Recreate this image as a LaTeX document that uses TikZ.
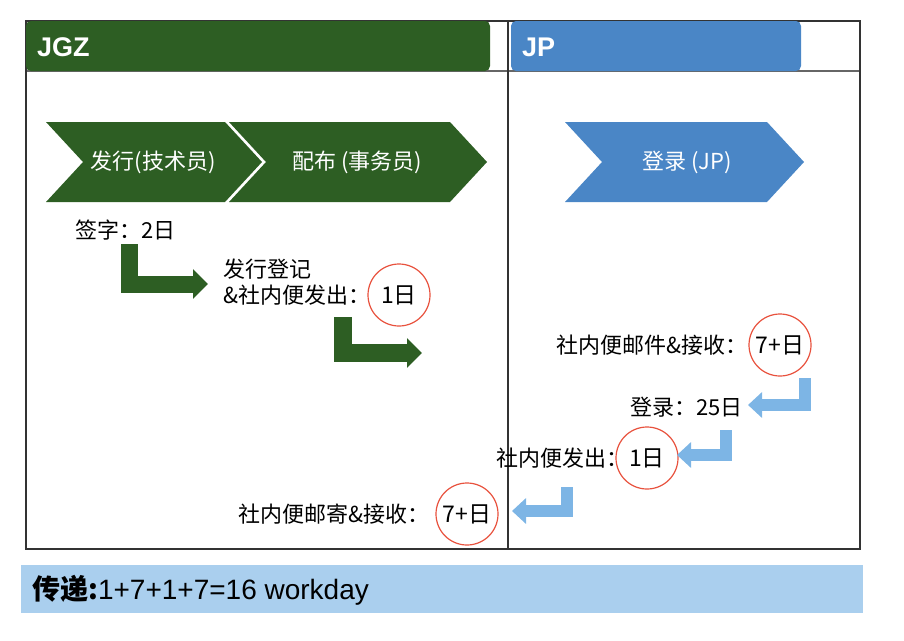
\documentclass[tikz,border=0pt]{standalone}
\usepackage{fontspec}
\setmainfont{Noto Sans CJK SC}
\newfontfamily\arialfont{Liberation Sans}
\usepackage{tikz}
\usetikzlibrary{calc}
\usetikzlibrary{positioning}
\usetikzlibrary{arrows.meta}

\definecolor{jgzgreen}{RGB}{45,94,35}
\definecolor{jpblue}{RGB}{74,134,198}
\definecolor{arrowblue}{RGB}{125,181,229}
\definecolor{barblue}{RGB}{170,207,238}
\definecolor{ringred}{RGB}{232,82,62}

\begin{document}
\begin{tikzpicture}[x=1pt,y=-1pt,
  txt/.style={inner sep=0pt,font=\fontsize{22}{26}\selectfont},
  chevtxt/.style={txt,text=white},
  headtxt/.style={anchor=west,inner sep=0pt,text=white,font=\arialfont\bfseries\fontsize{27}{30}\selectfont},
  ring/.style={txt,circle,draw=ringred,line width=1.2pt,minimum size=62pt,font=\fontsize{23}{26}\selectfont},
  garrow/.style={draw=jgzgreen,line width=17pt,line join=miter,-{Triangle[length=15pt,width=29pt]}},
  barrow/.style={draw=arrowblue,line width=12pt,line join=miter,-{Triangle[length=14pt,width=25pt]}}]

\useasboundingbox (0,0) rectangle (904,640);

\def\lw{1.2pt}
\def\dep{37}

% frame
\draw[color=black!60,line width=2pt] (26,71) -- (860,71);
\draw[color=black!80,line width=\lw] (26,21) rectangle (860,549);
\draw[color=black!80,line width=\lw] (508,21) -- (508,549);

% headers
\fill[jgzgreen,rounded corners=5pt] (26,21) rectangle (490,71);
\fill[jpblue,rounded corners=5pt] (511,21) rectangle (801,71);
\node[headtxt] (jgz) at (37,47) {JGZ};
\node[headtxt] (jp) at (522,47) {JP};

% chevrons
\fill[jgzgreen] (46,122) -- (225,122) -- (225+\dep,162) -- (225,202) -- (46,202) -- (46+\dep,162) -- cycle;
\fill[jgzgreen] (229,122) -- (450,122) -- (450+\dep,162) -- (450,202) -- (229,202) -- (229+\dep,162) -- cycle;
\fill[jpblue] (565,122) -- (767,122) -- (767+\dep,162) -- (767,202) -- (565,202) -- (565+\dep,162) -- cycle;
\node[chevtxt] (issue) at (153,162) {发行(技术员)};
\node[chevtxt] (deliver) at (357,162) {配布 (事务员)};
\node[chevtxt] (login) at (687,162) {登录 (JP)};

% JGZ side
\node[txt,anchor=west] (sign) at (75,230) {签字：2日};
\node[ring] (d1a) at (399,295) {1日};
\node[txt,left=-3pt of d1a] (reg2) {\&社内便发出：};
\node[txt,above right=5pt and 0pt of reg2.north west] (reg1) {发行登记};

\coordinate (g1s) at (129,244);
\coordinate (g1e) at (208,284);
\coordinate (g2s) at (343,317);
\coordinate (g2e) at (422,353);
\draw[garrow] (g1s) |- (g1e);
\draw[garrow,line width=18pt] (g2s) |- (g2e);

% JP side
\node[ring] (d7a) at (780,345) {7+日};
\node[txt,left=1pt of d7a] (mail) {社内便邮件\&接收：};
\node[txt,anchor=east] (reg25) at (743,407) {登录：25日};
\node[ring] (d1b) at (647,458) {1日};
\node[txt,left=-13pt of d1b] (send) {社内便发出：};
\node[ring] (d7b) at (467,514) {7+日};
\node[txt,left=6pt of d7b] (post) {社内便邮寄\&接收：};

\coordinate (b1s) at (805,378);
\coordinate (b1e) at (748,405);
\coordinate (b2s) at (726,430);
\coordinate (b2e) at (677,455);
\coordinate (b3s) at (567,487);
\coordinate (b3e) at (512,511);
\draw[barrow] (b1s) |- (b1e);
\draw[barrow] (b2s) |- (b2e);
\draw[barrow] (b3s) |- (b3e);

% total
\fill[barblue] (21,565) rectangle (863,613);
\node[anchor=west,inner sep=0pt,font=\fontsize{28}{32}\selectfont] (total) at (32,590) {{\bfseries 传递:}{\arialfont 1+7+1+7=16 workday}};

\end{tikzpicture}
\end{document}
